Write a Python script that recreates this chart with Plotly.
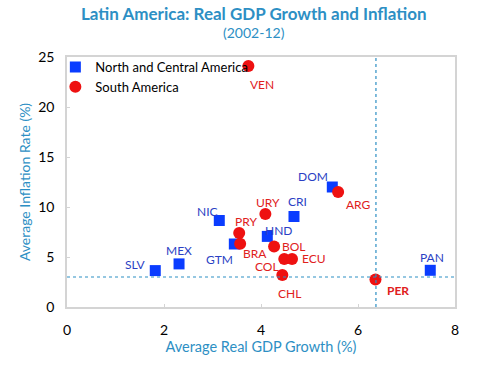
import plotly.graph_objects as go

# North and Central America
nca_codes = ["DOM", "CRI", "NIC", "HND", "GTM", "MEX", "SLV", "PAN"]
nca_gdp = [5.47, 4.68, 3.14, 4.13, 3.45, 2.31, 1.82, 7.49]
nca_inf = [12.0, 9.05, 8.65, 7.06, 6.30, 4.31, 3.64, 3.67]

# South America
sa_codes = ["VEN", "ARG", "URY", "PRY", "BRA", "BOL", "COL", "ECU", "CHL", "PER"]
sa_gdp = [3.74, 5.59, 4.09, 3.55, 3.57, 4.27, 4.48, 4.64, 4.44, 6.36]
sa_inf = [24.1, 11.5, 9.29, 7.40, 6.33, 6.06, 4.81, 4.81, 3.21, 2.74]

ref_gdp = 6.37
ref_inf = 3.0

x_ticks = [0, 2, 4, 6, 8]
y_ticks = [0, 5, 10, 15, 20, 25]

# label offsets (pixels) per code
offsets = {
    "DOM": (-19, 11), "CRI": (4, 15), "NIC": (-12, 9), "HND": (11, 6),
    "GTM": (-15, -15), "MEX": (0, 13), "SLV": (-20, 6), "PAN": (2, 13),
    "VEN": (14, -18), "ARG": (20, -12), "URY": (3, 12), "PRY": (7, 12),
    "BRA": (15, -10), "BOL": (20, 0), "COL": (-17, -8), "ECU": (22, 0),
    "CHL": (7, -19), "PER": (23, -11),
}

BLUE = "#0a3cff"
RED = "#ee1111"
BLUE_TXT = "#2b3fc4"
RED_TXT = "#e0201c"
TEAL = "#2d8fc4"
FONT = "Lato"

fig = go.Figure()
fig.add_trace(go.Scatter(
    x=nca_gdp, y=nca_inf, mode="markers", name="North and Central America",
    marker=dict(symbol="square", size=11, color=BLUE),
))
fig.add_trace(go.Scatter(
    x=sa_gdp, y=sa_inf, mode="markers", name="South America",
    marker=dict(symbol="circle", size=12, color=RED),
))

annotations = []
for codes, xs, ys, col in [(nca_codes, nca_gdp, nca_inf, BLUE_TXT), (sa_codes, sa_gdp, sa_inf, RED_TXT)]:
    for c, xv, yv in zip(codes, xs, ys):
        dx, dy = offsets[c]
        txt = "<b>%s</b>" % c if c == "PER" else c
        annotations.append(dict(x=xv, y=yv, text=txt, showarrow=False,
                                xshift=dx, yshift=dy,
                                font=dict(family=FONT, size=12, color=col)))

annotations.append(dict(x=0.5, y=1.0, xref="paper", yref="paper", xanchor="center",
                        yanchor="middle", yshift=44, xshift=-7,
                        text="<b>Latin America: Real GDP Growth and Inflation</b>",
                        showarrow=False, font=dict(family=FONT, size=17, color=TEAL)))
annotations.append(dict(x=0.5, y=1.0, xref="paper", yref="paper", xanchor="center",
                        yanchor="middle", yshift=25, xshift=-7,
                        text="(2002-12)", showarrow=False,
                        font=dict(family=FONT, size=14, color=TEAL)))

shapes = [
    dict(type="line", xref="x", yref="paper", x0=ref_gdp, x1=ref_gdp, y0=0, y1=1,
         line=dict(color=TEAL, width=1.2, dash="dot")),
    dict(type="line", xref="paper", yref="y", x0=0, x1=1, y0=ref_inf, y1=ref_inf,
         line=dict(color=TEAL, width=1.2, dash="dot")),
]

fig.update_layout(
    width=486, height=371,
    margin=dict(l=67, r=31, t=57, b=64),
    paper_bgcolor="white", plot_bgcolor="white",
    font=dict(family=FONT, color="black", size=14),
    showlegend=True,
    legend=dict(x=-0.03, y=1.02, xanchor="left", yanchor="top",
                bgcolor="rgba(0,0,0,0)", font=dict(family=FONT, size=13, color="black"),
                itemwidth=30, tracegroupgap=3),
    annotations=annotations,
    shapes=shapes,
    xaxis=dict(range=[0, 8], tickvals=x_ticks, showgrid=False, zeroline=False,
               showline=True, linecolor="#d4d4d4", linewidth=1.5, mirror=True,
               ticks="inside", ticklen=3, tickcolor="#d4d4d4",
               ticklabelstandoff=9, automargin=False,
               tickfont=dict(family=FONT, size=14, color="black"),
               title=dict(text="Average Real GDP Growth (%)", standoff=5,
                          font=dict(family=FONT, size=14.5, color=TEAL))),
    yaxis=dict(range=[0, 25], tickvals=y_ticks, showgrid=False, zeroline=False,
               showline=True, linecolor="#d4d4d4", linewidth=1.5, mirror=True,
               ticks="inside", ticklen=3, tickcolor="#d4d4d4",
               ticklabelstandoff=8, automargin=False,
               tickfont=dict(family=FONT, size=14, color="black"),
               title=dict(text="Average Inflation Rate (%)", standoff=4,
                          font=dict(family=FONT, size=14, color=TEAL))),
)

fig.write_html("out.html", config={"displayModeBar": False},
               post_script="document.body.style.margin='0';document.body.style.padding='0';")
